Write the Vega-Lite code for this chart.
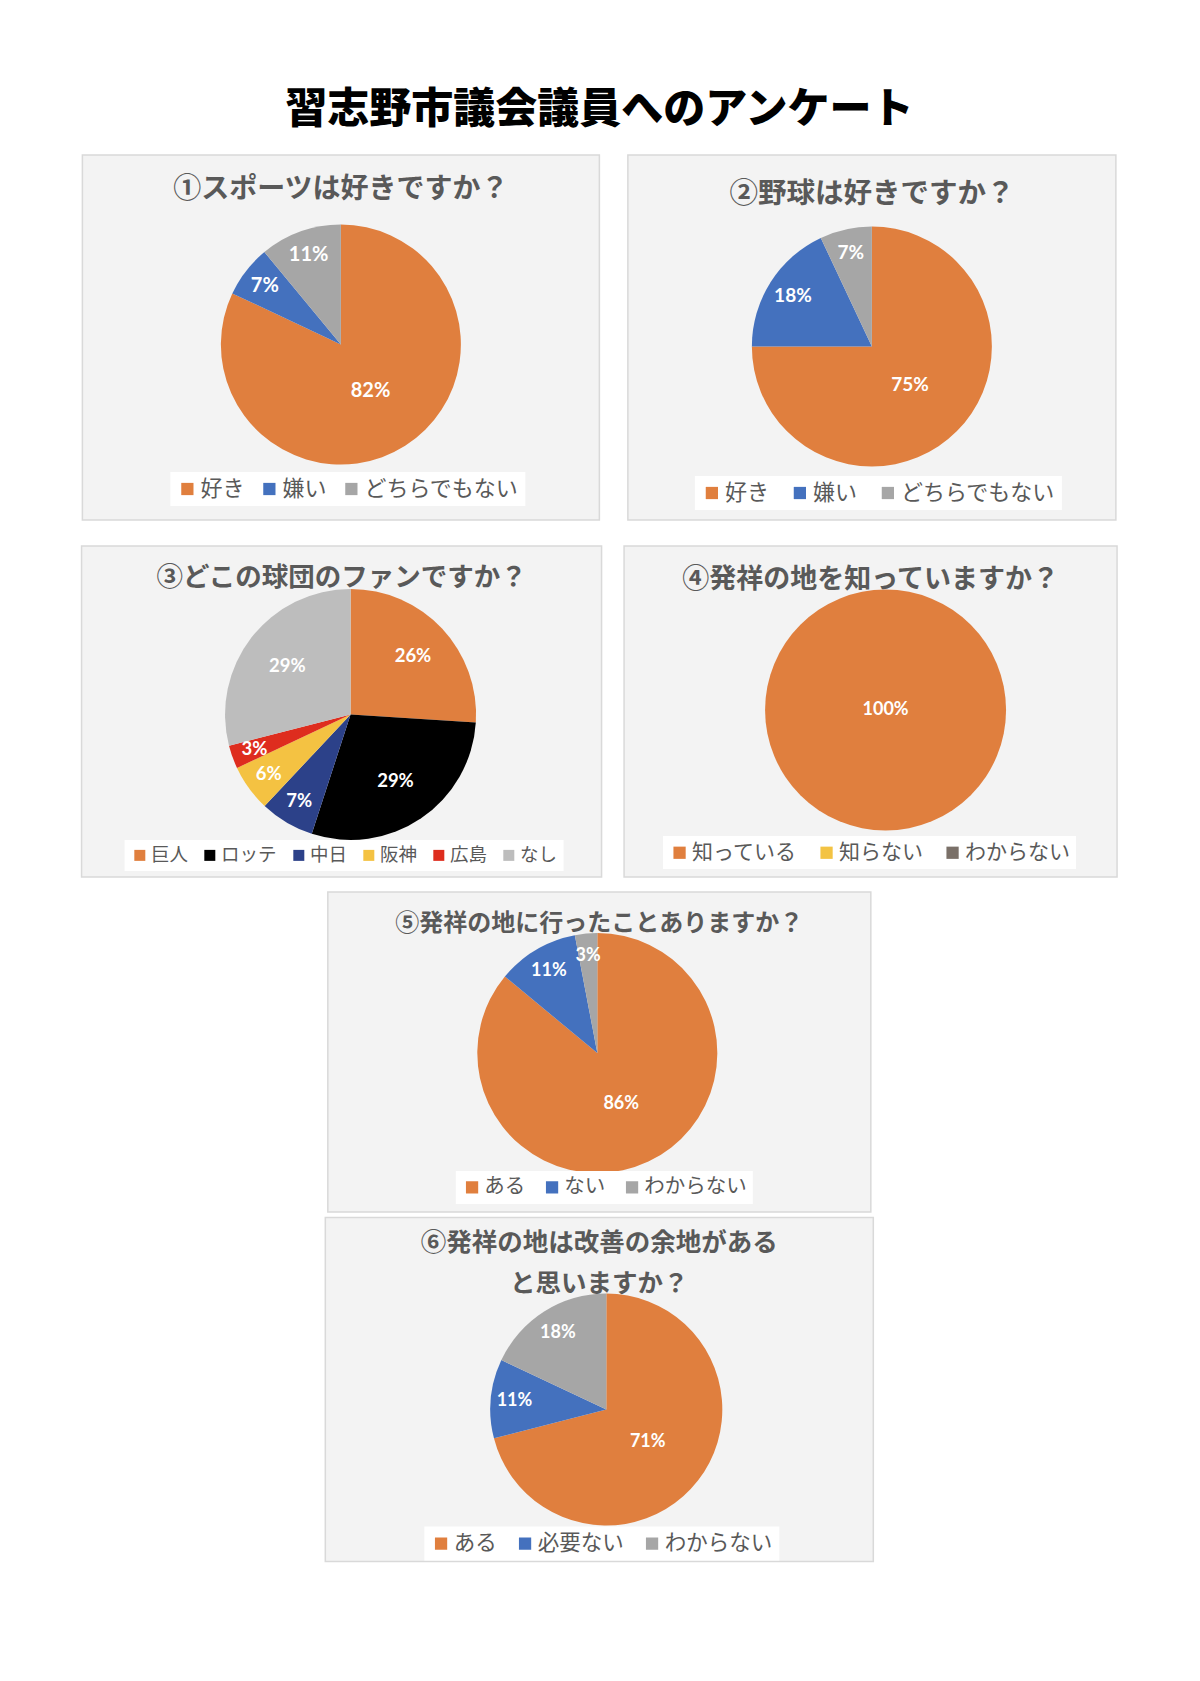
{
  "$schema": "https://vega.github.io/schema/vega-lite/v6.json",
  "background": "white",
  "padding": {"left": 80, "top": 89, "right": 83, "bottom": 20},
  "title": {"text": "習志野市議会議員へのアンケート", "fontSize": 42, "font": "Noto Sans CJK JP", "fontWeight": 900, "color": "#000000", "offset": 22, "anchor": "middle"},
  "datasets": {
    "q1": [{"answer": "好き", "value": 0.82, "i": 1}, {"answer": "嫌い", "value": 0.07, "i": 2}, {"answer": "どちらでもない", "value": 0.11, "i": 3}],
    "q2": [{"answer": "好き", "value": 0.75, "i": 1}, {"answer": "嫌い", "value": 0.18, "i": 2}, {"answer": "どちらでもない", "value": 0.07, "i": 3}],
    "q3": [{"answer": "巨人", "value": 0.26, "i": 1}, {"answer": "ロッテ", "value": 0.29, "i": 2}, {"answer": "中日", "value": 0.07, "i": 3}, {"answer": "阪神", "value": 0.06, "i": 4}, {"answer": "広島", "value": 0.03, "i": 5}, {"answer": "なし", "value": 0.29, "i": 6}],
    "q4": [{"answer": "知っている", "value": 1.0, "i": 1}, {"answer": "知らない", "value": 0, "i": 2}, {"answer": "わからない", "value": 0, "i": 3}],
    "q5": [{"answer": "ある", "value": 0.86, "i": 1}, {"answer": "ない", "value": 0.11, "i": 2}, {"answer": "わからない", "value": 0.03, "i": 3}],
    "q6": [{"answer": "ある", "value": 0.71, "i": 1}, {"answer": "必要ない", "value": 0.11, "i": 2}, {"answer": "わからない", "value": 0.18, "i": 3}],
    "panel": [{"p": 1}]
  },
  "vconcat": [
    {
      "hconcat": [
        {
          "width": 517, "height": 365,
          "title": {"text": "①スポーツは好きですか？", "offset": -50, "fontSize": 28},
          "layer": [
            {"data": {"name": "panel"}, "mark": {"type": "rect", "fill": "#F3F3F3", "stroke": "#D9D9D9", "strokeWidth": 1.5}, "encoding": {}},
            {"data": {"name": "q1"}, "mark": {"type": "arc", "outerRadius": 120, "yOffset": 7},
             "encoding": {
               "theta": {"field": "value", "type": "quantitative", "stack": true, "scale": {"domain": [0, 1]}},
               "order": {"field": "i", "type": "quantitative"},
               "color": {"field": "answer", "type": "nominal",
                 "scale": {"domain": ["好き", "嫌い", "どちらでもない"], "range": ["#E07F3E", "#4471BE", "#A6A6A6"]},
                 "legend": {"orient": "none", "legendX": 88, "legendY": 317, "labelFontSize": 22, "columnPadding": 13}}}},
            {"data": {"name": "q1"}, "mark": {"type": "text", "yOffset": 7, "font": "Lato", "fontWeight": "bold", "fontSize": 20, "color": "white"},
             "encoding": {
               "theta": {"field": "value", "type": "quantitative", "stack": true},
               "order": {"field": "i", "type": "quantitative"},
               "detail": {"field": "answer"},
               "radius": {"field": "value", "type": "quantitative", "scale": {"type": "linear", "zero": false, "nice": false, "domain": [0, 0.2, 0.3, 0.75, 0.9, 1], "range": [98, 93, 80, 54, 57, 0]}},
               "text": {"field": "value", "type": "quantitative", "format": ".0%"}}}
          ]
        },
        {
          "width": 488, "height": 365,
          "title": {"text": "②野球は好きですか？", "offset": -54, "fontSize": 28.5},
          "layer": [
            {"data": {"name": "panel"}, "mark": {"type": "rect", "fill": "#F3F3F3", "stroke": "#D9D9D9", "strokeWidth": 1.5}, "encoding": {}},
            {"data": {"name": "q2"}, "mark": {"type": "arc", "outerRadius": 120, "yOffset": 9},
             "encoding": {
               "theta": {"field": "value", "type": "quantitative", "stack": true, "scale": {"domain": [0, 1]}},
               "order": {"field": "i", "type": "quantitative"},
               "color": {"field": "answer", "type": "nominal",
                 "scale": {"domain": ["好き", "嫌い", "どちらでもない"], "range": ["#E07F3E", "#4471BE", "#A6A6A6"]},
                 "legend": {"orient": "none", "legendX": 67, "legendY": 321, "labelFontSize": 22, "columnPadding": 19}}}},
            {"data": {"name": "q2"}, "mark": {"type": "text", "yOffset": 9, "font": "Lato", "fontWeight": "bold", "fontSize": 19, "color": "white"},
             "encoding": {
               "theta": {"field": "value", "type": "quantitative", "stack": true},
               "order": {"field": "i", "type": "quantitative"},
               "detail": {"field": "answer"},
               "radius": {"field": "value", "type": "quantitative", "scale": {"type": "linear", "zero": false, "nice": false, "domain": [0, 0.2, 0.3, 0.75, 0.9, 1], "range": [98, 93, 80, 54, 57, 0]}},
               "text": {"field": "value", "type": "quantitative", "format": ".0%"}}}
          ]
        }
      ],
      "spacing": 28.5,
      "bounds": "flush",
      "resolve": {"scale": {"color": "independent", "theta": "independent", "radius": "independent"}}
    },
    {
      "vconcat": [
        {
          "hconcat": [
            {
              "width": 520, "height": 331,
              "title": {"text": "③どこの球団のファンですか？", "offset": -46.5, "fontSize": 26.5},
              "layer": [
                {"data": {"name": "panel"}, "mark": {"type": "rect", "fill": "#F3F3F3", "stroke": "#D9D9D9", "strokeWidth": 1.5}, "encoding": {}},
                {"data": {"name": "q3"}, "mark": {"type": "arc", "outerRadius": 125.5, "xOffset": 9, "yOffset": 3},
                 "encoding": {
                   "theta": {"field": "value", "type": "quantitative", "stack": true, "scale": {"domain": [0, 1]}},
                   "order": {"field": "i", "type": "quantitative"},
                   "color": {"field": "answer", "type": "nominal",
                     "scale": {"domain": ["巨人", "ロッテ", "中日", "阪神", "広島", "なし"], "range": ["#E07F3E", "#000000", "#2C4189", "#F4C242", "#DE2D1E", "#BDBDBD"]},
                     "legend": {"orient": "none", "legendX": 43, "legendY": 294, "labelFontSize": 18.5, "columnPadding": 12, "symbolSize": 121}}}},
                {"data": {"name": "q3"}, "mark": {"type": "text", "xOffset": 9, "yOffset": 3, "font": "Lato", "fontWeight": "bold", "fontSize": 18.5, "color": "white"},
                 "encoding": {
                   "theta": {"field": "value", "type": "quantitative", "stack": true},
                   "order": {"field": "i", "type": "quantitative"},
                   "detail": {"field": "answer"},
                   "radius": {"field": "value", "type": "quantitative", "scale": {"type": "linear", "zero": false, "nice": false, "domain": [0, 0.2, 0.3, 0.75, 0.9, 1], "range": [103, 97, 78, 57, 60, 0]}},
                   "text": {"field": "value", "type": "quantitative", "format": ".0%"}}}
              ]
            },
            {
              "width": 493, "height": 331,
              "title": {"text": "④発祥の地を知っていますか？", "offset": -48.5, "fontSize": 27},
              "layer": [
                {"data": {"name": "panel"}, "mark": {"type": "rect", "fill": "#F3F3F3", "stroke": "#D9D9D9", "strokeWidth": 1.5}, "encoding": {}},
                {"data": {"name": "q4"}, "mark": {"type": "arc", "outerRadius": 120.5, "xOffset": 15, "yOffset": -1.5},
                 "encoding": {
                   "theta": {"field": "value", "type": "quantitative", "stack": true, "scale": {"domain": [0, 1]}},
                   "order": {"field": "i", "type": "quantitative"},
                   "color": {"field": "answer", "type": "nominal",
                     "scale": {"domain": ["知っている", "知らない", "わからない"], "range": ["#E07F3E", "#F3C343", "#7A7068"]},
                     "legend": {"orient": "none", "legendX": 39, "legendY": 290, "labelFontSize": 21, "columnPadding": 19}}}},
                {"data": {"name": "q4"}, "transform": [{"filter": "datum.value > 0"}],
                 "mark": {"type": "text", "xOffset": 15, "yOffset": -1.5, "font": "Lato", "fontWeight": "bold", "fontSize": 18, "color": "white"},
                 "encoding": {
                   "theta": {"field": "value", "type": "quantitative", "stack": true},
                   "order": {"field": "i", "type": "quantitative"},
                   "detail": {"field": "answer"},
                   "radius": {"field": "value", "type": "quantitative", "scale": {"type": "linear", "zero": false, "nice": false, "domain": [0, 0.2, 0.3, 0.75, 0.9, 1], "range": [98, 93, 80, 54, 57, 0]}},
                   "text": {"field": "value", "type": "quantitative", "format": ".0%"}}}
              ]
            }
          ],
          "spacing": 22.5,
          "bounds": "flush",
          "resolve": {"scale": {"color": "independent", "theta": "independent", "radius": "independent"}}
        },
        {
          "vconcat": [
            {
              "width": 543, "height": 320,
              "title": {"text": "⑤発祥の地に行ったことありますか？", "offset": -45, "fontSize": 24},
              "layer": [
                {"data": {"name": "panel"}, "mark": {"type": "rect", "fill": "#F3F3F3", "stroke": "#D9D9D9", "strokeWidth": 1.5}, "encoding": {}},
                {"data": {"name": "q5"}, "mark": {"type": "arc", "outerRadius": 120, "xOffset": -2, "yOffset": 1},
                 "encoding": {
                   "theta": {"field": "value", "type": "quantitative", "stack": true, "scale": {"domain": [0, 1]}},
                   "order": {"field": "i", "type": "quantitative"},
                   "color": {"field": "answer", "type": "nominal",
                     "scale": {"domain": ["ある", "ない", "わからない"], "range": ["#E07F3E", "#4471BE", "#A6A6A6"]},
                     "legend": {"orient": "none", "legendX": 128, "legendY": 279, "labelFontSize": 20.5, "columnPadding": 16}}}},
                {"data": {"name": "q5"}, "mark": {"type": "text", "xOffset": -2, "yOffset": 1, "font": "Lato", "fontWeight": "bold", "fontSize": 18, "color": "white"},
                 "encoding": {
                   "theta": {"field": "value", "type": "quantitative", "stack": true},
                   "order": {"field": "i", "type": "quantitative"},
                   "detail": {"field": "answer"},
                   "radius": {"field": "value", "type": "quantitative", "scale": {"type": "linear", "zero": false, "nice": false, "domain": [0, 0.2, 0.3, 0.75, 0.9, 1], "range": [98, 93, 80, 54, 57, 0]}},
                   "text": {"field": "value", "type": "quantitative", "format": ".0%"}}}
              ]
            },
            {
              "width": 548, "height": 344,
              "title": {"text": ["⑥発祥の地は改善の余地がある", "と思いますか？"], "offset": -81, "fontSize": 25.5, "lineHeight": 41},
              "layer": [
                {"data": {"name": "panel"}, "mark": {"type": "rect", "fill": "#F3F3F3", "stroke": "#D9D9D9", "strokeWidth": 1.5}, "encoding": {}},
                {"data": {"name": "q6"}, "mark": {"type": "arc", "outerRadius": 116, "xOffset": 7, "yOffset": 20},
                 "encoding": {
                   "theta": {"field": "value", "type": "quantitative", "stack": true, "scale": {"domain": [0, 1]}},
                   "order": {"field": "i", "type": "quantitative"},
                   "color": {"field": "answer", "type": "nominal",
                     "scale": {"domain": ["ある", "必要ない", "わからない"], "range": ["#E07F3E", "#4471BE", "#A6A6A6"]},
                     "legend": {"orient": "none", "legendX": 99, "legendY": 309, "labelFontSize": 21.5, "columnPadding": 17}}}},
                {"data": {"name": "q6"}, "mark": {"type": "text", "xOffset": 7, "yOffset": 20, "font": "Lato", "fontWeight": "bold", "fontSize": 18, "color": "white"},
                 "encoding": {
                   "theta": {"field": "value", "type": "quantitative", "stack": true},
                   "order": {"field": "i", "type": "quantitative"},
                   "detail": {"field": "answer"},
                   "radius": {"field": "value", "type": "quantitative", "scale": {"type": "linear", "zero": false, "nice": false, "domain": [0, 0.2, 0.3, 0.75, 0.9, 1], "range": [95, 90, 77, 50, 55, 0]}},
                   "text": {"field": "value", "type": "quantitative", "format": ".0%"}}}
              ]
            }
          ],
          "spacing": 5.5,
          "center": true,
          "bounds": "flush",
          "resolve": {"scale": {"color": "independent", "theta": "independent", "radius": "independent"}}
        }
      ],
      "spacing": 13,
      "center": true,
      "resolve": {"scale": {"color": "independent", "theta": "independent", "radius": "independent"}}
    }
  ],
  "spacing": 24,
  "center": true,
  "resolve": {"scale": {"color": "independent", "theta": "independent", "radius": "independent"}},
  "config": {
    "view": {"stroke": null},
    "title": {"font": "Noto Sans CJK JP", "fontWeight": "bold", "color": "#595959", "anchor": "middle"},
    "legend": {"title": null, "direction": "horizontal", "symbolType": "square", "symbolSize": 150, "symbolStrokeWidth": 0, "labelFont": "Noto Sans CJK JP", "labelColor": "#595959", "labelOffset": 2, "fillColor": "#FFFFFF", "padding": 6, "labelLimit": 400}
  }
}
